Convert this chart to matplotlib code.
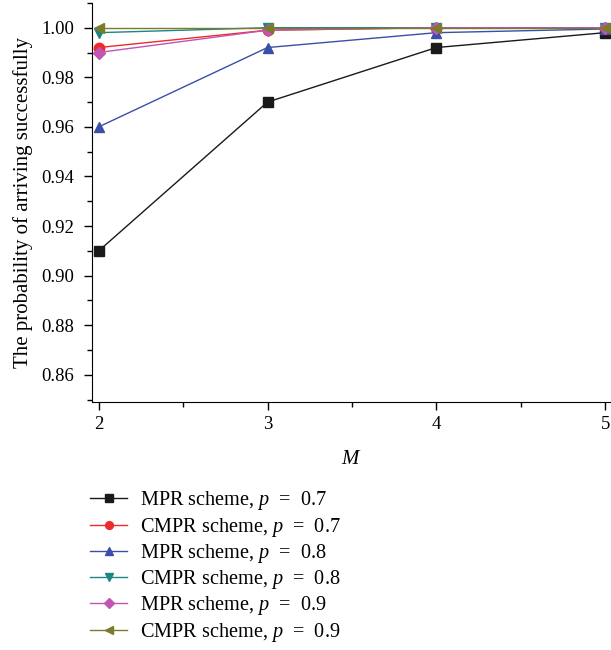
import matplotlib.pyplot as plt
from matplotlib.ticker import MultipleLocator

plt.rcParams['font.family'] = ['Liberation Serif', 'DejaVu Serif']
plt.rcParams['mathtext.fontset'] = 'custom'
plt.rcParams['mathtext.it'] = 'Liberation Serif:italic'
plt.rcParams['mathtext.rm'] = 'Liberation Serif'

M = [2, 3, 4, 5]
mpr_07 = [0.910, 0.970, 0.992, 0.998]
cmpr_07 = [0.992, 0.999, 1.000, 1.000]
mpr_08 = [0.960, 0.992, 0.998, 0.9995]
cmpr_08 = [0.998, 1.000, 1.000, 1.000]
mpr_09 = [0.990, 0.999, 1.000, 1.000]
cmpr_09 = [1.000, 1.000, 1.000, 1.000]

series = [
    (mpr_07, 'MPR scheme, $p$  =  0.7', '#1a1a1a', 's'),
    (cmpr_07, 'CMPR scheme, $p$  =  0.7', '#ee2b2b', 'o'),
    (mpr_08, 'MPR scheme, $p$  =  0.8', '#3a4fa8', '^'),
    (cmpr_08, 'CMPR scheme, $p$  =  0.8', '#1e8585', 'v'),
    (mpr_09, 'MPR scheme, $p$  =  0.9', '#c254b4', 'D'),
    (cmpr_09, 'CMPR scheme, $p$  =  0.9', '#7b7b2e', '<'),
]

fig = plt.figure(figsize=(6.11, 6.5), dpi=100)
ax = fig.add_axes([0.1506, 0.3815, 0.8494, 0.614])

for vals, lab, col, mk in series:
    ms = 6.5 if mk == 'D' else 7.5
    ax.plot(M, vals, color=col, marker=mk, markersize=ms, linewidth=1.0,
            label=lab, clip_on=False)

ax.set_xlim(1.96, 5.035)
ax.set_ylim(0.849, 1.010)
ax.xaxis.set_major_locator(MultipleLocator(1))
ax.xaxis.set_minor_locator(MultipleLocator(0.5))
ax.yaxis.set_major_locator(MultipleLocator(0.02))
ax.yaxis.set_minor_locator(MultipleLocator(0.01))
ax.yaxis.set_major_formatter(plt.FuncFormatter(lambda v, p: f'{v:.2f}'))
ax.tick_params(which='major', direction='out', length=6, width=1, labelsize=13.5, pad=4)
ax.tick_params(axis='y', which='major', pad=7)
ax.tick_params(which='minor', direction='out', length=3.5, width=1)
ax.spines['top'].set_visible(False)
ax.spines['right'].set_visible(False)

ax.set_xlabel('$M$', fontsize=15, labelpad=12)
ax.set_ylabel('The probability of arriving successfully', fontsize=15, labelpad=6)

fig.legend(loc='upper left', bbox_to_anchor=(0.147, 0.247), frameon=False,
           fontsize=14.6, handlelength=1.85, handletextpad=0.62, labelspacing=0.16,
           borderpad=0, borderaxespad=0, markerscale=0.75)

fig.savefig('out.png', dpi=100)
